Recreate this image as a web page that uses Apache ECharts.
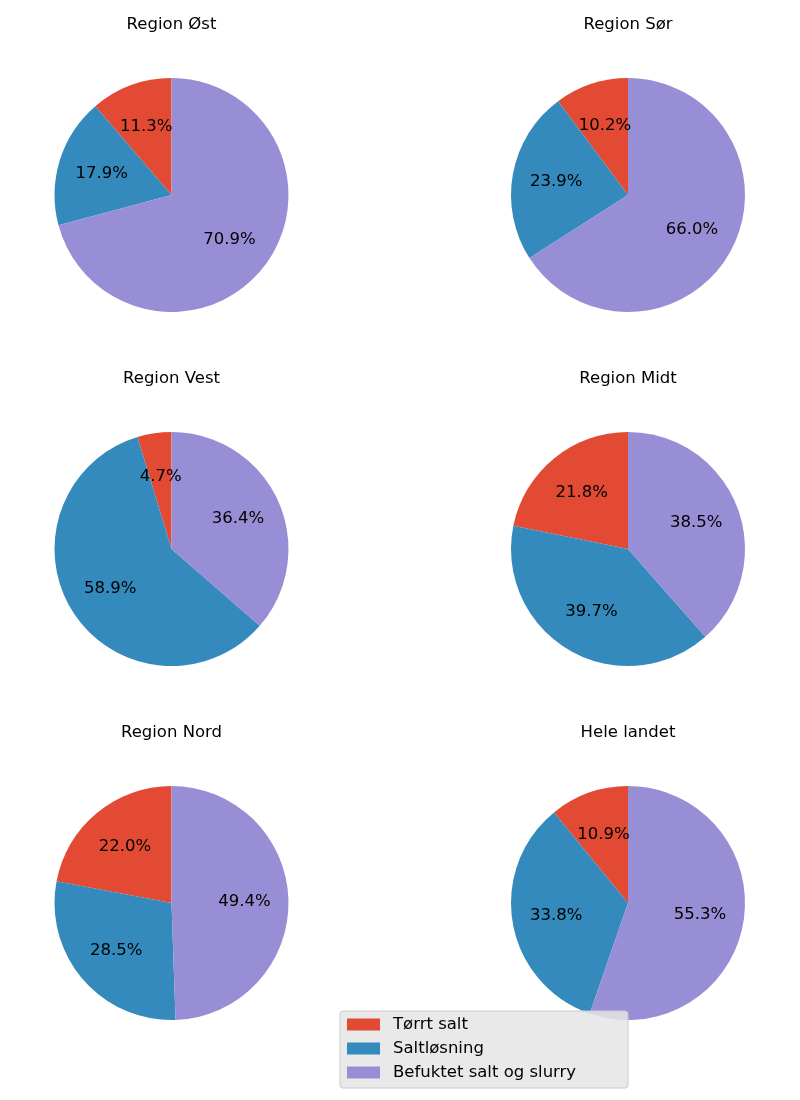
<!DOCTYPE html>
<html>
<head>
<meta charset="utf-8">
<script src="https://cdn.jsdelivr.net/npm/echarts@6/dist/echarts.min.js"></script>
<style>html,body{margin:0;padding:0;background:#fff}#c{width:800px;height:1100px}</style>
</head>
<body>
<div id="c"></div>
<script>
const categories = ['Tørrt salt', 'Saltløsning', 'Befuktet salt og slurry'];
const regions = ['Region Øst', 'Region Sør', 'Region Vest', 'Region Midt', 'Region Nord', 'Hele landet'];
const torrtSalt = [11.3, 10.2, 4.7, 21.8, 22.0, 10.9];
const saltlosning = [17.9, 23.9, 58.9, 39.7, 28.5, 33.8];
const befuktet = [70.9, 66.0, 36.4, 38.5, 49.4, 55.3];
const colors = ['#E24A33', '#348ABD', '#988ED5'];

const font = 'DejaVu Sans';
const fs = 16.5;
const colX = [171.5, 628];
const rowY = [195, 549, 903];
const titleY = [16, 370, 724];
const R = 117;

const titles = [];
const series = [];
regions.forEach((name, i) => {
  const cx = colX[i % 2], cy = rowY[Math.floor(i / 2)];
  const data = categories.map((c, k) => ({
    name: c,
    value: [torrtSalt, saltlosning, befuktet][k][i],
    itemStyle: { color: colors[k] }
  }));
  titles.push({
    text: name, left: cx, top: titleY[Math.floor(i / 2)], textAlign: 'center', padding: 0,
    textStyle: { fontFamily: font, fontSize: fs, fontWeight: 'normal', color: '#000' }
  });
  series.push({
    type: 'pie', center: [cx, cy], radius: [0, R], startAngle: 90, clockwise: false,
    animation: false, silent: true, label: { show: false }, labelLine: { show: false },
    emphasis: { disabled: true }, data: data
  });
  series.push({
    type: 'pie', center: [cx, cy], radius: [59, 81], startAngle: 90, clockwise: false,
    animation: false, silent: true, z: 3, legendHoverLink: false,
    itemStyle: { color: 'rgba(0,0,0,0)', borderWidth: 0 },
    label: {
      show: true, position: 'inside', fontFamily: font, fontSize: fs, color: '#000',
      formatter: p => p.value.toFixed(1) + '%'
    },
    labelLine: { show: false }, emphasis: { disabled: true },
    data: data.map(d => ({ name: d.name + ' ', value: d.value, itemStyle: { color: 'rgba(0,0,0,0)' } }))
  });
});

const chart = echarts.init(document.getElementById('c'), null, { renderer: 'canvas' });
chart.setOption({
  backgroundColor: '#fff',
  animation: false,
  title: titles,
  legend: {
    data: categories.map((c, k) => ({ name: c, itemStyle: { color: colors[k] } })),
    orient: 'vertical', left: 340, top: 1011,
    icon: 'rect', itemWidth: 33, itemHeight: 12, itemGap: 5,
    padding: [4, 10, 6, 7],
    backgroundColor: 'rgba(229,229,229,0.85)', borderColor: '#cccccc', borderWidth: 1, borderRadius: 3,
    textStyle: { fontFamily: font, fontSize: fs, color: '#000', width: 225, padding: [0, 0, 0, 8], lineHeight: 19 },
    selectedMode: false
  },
  series: series
});
</script>
</body>
</html>
